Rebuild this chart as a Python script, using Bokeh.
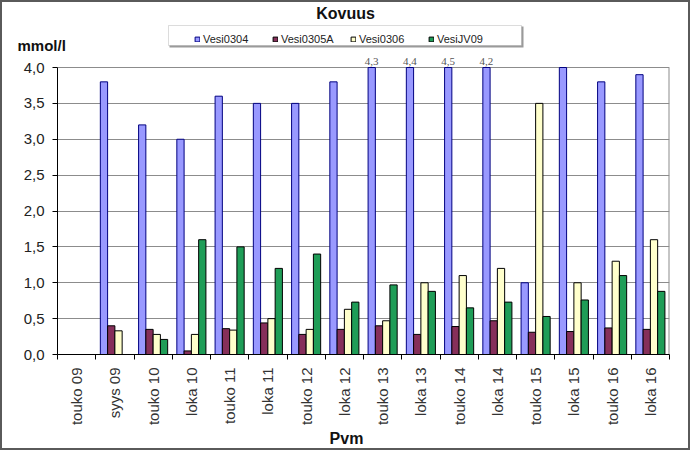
import math
from bokeh.plotting import figure
from bokeh.layouts import column
from bokeh.models import (Range1d, FixedTicker, ColumnDataSource, Legend, LegendItem,
                          Label, LabelSet, BoxAnnotation)
from bokeh.transform import dodge
from bokeh.embed import file_html
from bokeh.resources import INLINE

nan = float("nan")

categories = ["touko 09", "syys 09", "touko 10", "loka 10", "touko 11", "loka 11",
              "touko 12", "loka 12", "touko 13", "loka 13", "touko 14", "loka 14",
              "touko 15", "loka 15", "touko 16", "loka 16"]
vesi0304 = [nan, 3.8, 3.2, 3.0, 3.6, 3.5, 3.5, 3.8, 4.3, 4.4, 4.5, 4.2, 1.0, 4.0, 3.8, 3.9]
vesi0305a = [nan, 0.40, 0.35, 0.05, 0.36, 0.44, 0.28, 0.35, 0.40, 0.28, 0.39, 0.47, 0.31, 0.32, 0.37, 0.35]
vesi0306 = [nan, 0.33, 0.28, 0.28, 0.34, 0.50, 0.35, 0.63, 0.47, 1.0, 1.1, 1.2, 3.5, 1.0, 1.3, 1.6]
vesijv09 = [nan, nan, 0.21, 1.6, 1.5, 1.2, 1.4, 0.73, 0.97, 0.88, 0.65, 0.73, 0.53, 0.76, 1.1, 0.88]
series_names = ["Vesi0304", "Vesi0305A", "Vesi0306", "VesiJV09"]
y_ticks = [0.0, 0.5, 1.0, 1.5, 2.0, 2.5, 3.0, 3.5, 4.0]
y_max = 4.0
title_text = "Kovuus"
y_title = "mmol/l"
x_title = "Pvm"

FONT = "Liberation Sans"
W, H, B = 690, 450, 2          # page size and outer border width
FL, FR, FT, FB = 57, 669, 67, 354   # plot area in page pixels
TOP_END = 56                   # page y where the main figure starts
MAIN_END = 428                 # page y where the main figure ends
n = len(categories)
px_per_unit = (FB - FT) / y_max
y_top = y_max + (FT - TOP_END) / px_per_unit

fills = ["#9999FF", "#862F5A", "#FFFFCC", "#1F9D57"]
lines = ["#000080", "#000000", "#000000", "#000000"]

centers = [i + 0.5 for i in range(n)]
shown0304 = [min(v, y_max) if v == v else v for v in vesi0304]
src = ColumnDataSource(dict(x=centers, a=shown0304, b=vesi0305a, c=vesi0306, d=vesijv09))
cols = ["a", "b", "c", "d"]

# ---------------- top strip: title, legend, unit ----------------
top = figure(width=W - 2 * B, height=TOP_END - B, x_range=Range1d(B, W - B),
             y_range=Range1d(TOP_END, B), output_backend="svg", toolbar_location=None,
             title=None, min_border=0, frame_align=False)
top.axis.visible = False
top.grid.visible = False
top.outline_line_color = None
top.border_fill_color = "white"
proxies = []
for col, fc, lc in zip(cols, fills, lines):
    proxies.append(top.vbar(x="x", top=col, width=0.19, source=src, fill_color=fc,
                            line_color=lc, visible=False))
top.add_layout(Label(x=345, y=13, text=title_text, text_align="center",
                     text_baseline="middle", text_font=FONT, text_font_size="16px",
                     text_font_style="bold", text_color="#111111"))
top.add_layout(Label(x=17, y=45, text=y_title, text_align="left",
                     text_baseline="middle", text_font=FONT, text_font_size="15px",
                     text_font_style="bold", text_color="#111111"))
top.add_layout(BoxAnnotation(left=169, right=523, top=26, bottom=47, fill_color="#9a9a9a",
                             fill_alpha=1, line_color=None))
top.add_layout(BoxAnnotation(left=168, right=521, top=25, bottom=45, fill_color="white",
                             fill_alpha=1, line_color="#8c8c8c", line_width=1))
legend = Legend(items=[LegendItem(label=nm, renderers=[r]) for nm, r in zip(series_names, proxies)],
                orientation="horizontal", location=(194 - B, TOP_END - 45),
                padding=4, spacing=3, label_width=66, label_height=13, label_standoff=3,
                glyph_width=6, glyph_height=6, label_text_font=FONT,
                label_text_font_size="11px", label_text_color="#222222",
                border_line_color=None, background_fill_alpha=0, margin=0)
top.add_layout(legend)

# ---------------- main chart ----------------
p = figure(width=W - 2 * B, height=MAIN_END - TOP_END, x_range=Range1d(0, n),
           y_range=Range1d(0, y_top), output_backend="svg", toolbar_location=None,
           title=None, min_border_left=FL - B, min_border_right=(W - B) - FR,
           min_border_top=0, min_border_bottom=MAIN_END - FB, frame_align=False)
p.background_fill_color = "white"
p.border_fill_color = "white"
p.outline_line_color = None

bw = 0.19
offsets = [-1.5 * bw, -0.5 * bw, 0.5 * bw, 1.5 * bw]
for col, off, fc, lc in zip(cols, offsets, fills, lines):
    p.vbar(x=dodge("x", off), top=col, width=bw, bottom=0, source=src,
           fill_color=fc, line_color=lc, line_width=1)

# right border of the plot area
p.segment(x0=[n], y0=[0], x1=[n], y1=[y_max], line_color="#8c8c8c", line_width=2)

# labels for bars that run past the axis maximum
over = [(c + offsets[0], v) for c, v in zip(centers, vesi0304) if v == v and v > y_max]
lsrc = ColumnDataSource(dict(x=[o[0] for o in over], y=[y_max] * len(over),
                             t=[f"{o[1]:.1f}".replace(".", ",") for o in over]))
p.add_layout(LabelSet(x="x", y="y", text="t", source=lsrc, y_offset=3,
                      text_align="center", text_baseline="bottom",
                      text_font_size="11px", text_color="#555555", text_font=FONT))

p.xaxis.ticker = FixedTicker(ticks=centers, minor_ticks=list(range(n + 1)))
p.xaxis.major_label_overrides = {c: cat for c, cat in zip(centers, categories)}
p.xaxis.major_label_orientation = math.pi / 2
p.xaxis.major_tick_line_color = None
p.xaxis.major_tick_out = 0
p.xaxis.minor_tick_in = 0
p.xaxis.minor_tick_out = 5
p.xaxis.minor_tick_line_color = "black"
p.xaxis.axis_line_color = "black"
p.xaxis.major_label_standoff = 8
p.xaxis.major_label_text_font = FONT
p.xaxis.major_label_text_font_size = "15px"
p.xaxis.major_label_text_color = "#333333"

p.yaxis.ticker = FixedTicker(ticks=y_ticks)
p.yaxis.bounds = (0, y_max)
p.yaxis.major_label_overrides = {t: f"{t:.1f}".replace(".", ",") for t in y_ticks}
p.yaxis.minor_tick_line_color = None
p.yaxis.major_tick_in = 0
p.yaxis.major_tick_out = 5
p.yaxis.major_tick_line_color = "black"
p.yaxis.axis_line_color = "black"
p.yaxis.major_label_standoff = 8
p.yaxis.major_label_text_font = FONT
p.yaxis.major_label_text_font_size = "15px"
p.yaxis.major_label_text_color = "#222222"

p.xgrid.grid_line_color = None
p.ygrid.ticker = FixedTicker(ticks=y_ticks)
p.ygrid.grid_line_color = "#8c8c8c"
p.ygrid.grid_line_width = 1

# ---------------- bottom strip: x title ----------------
bot = figure(width=W - 2 * B, height=(H - B) - MAIN_END, x_range=Range1d(B, W - B),
             y_range=Range1d(H - B, MAIN_END), output_backend="svg", toolbar_location=None,
             title=None, min_border=0, frame_align=False)
bot.axis.visible = False
bot.grid.visible = False
bot.outline_line_color = None
bot.add_layout(Label(x=346, y=438, text=x_title, text_align="center",
                     text_baseline="middle", text_font=FONT, text_font_size="16px",
                     text_font_style="bold", text_color="#111111"))

page = column(top, p, bot, spacing=0, styles={"border": f"{B}px solid #5a5a5a",
                                               "background-color": "white"})
open("out.html", "w").write(file_html(page, INLINE))
